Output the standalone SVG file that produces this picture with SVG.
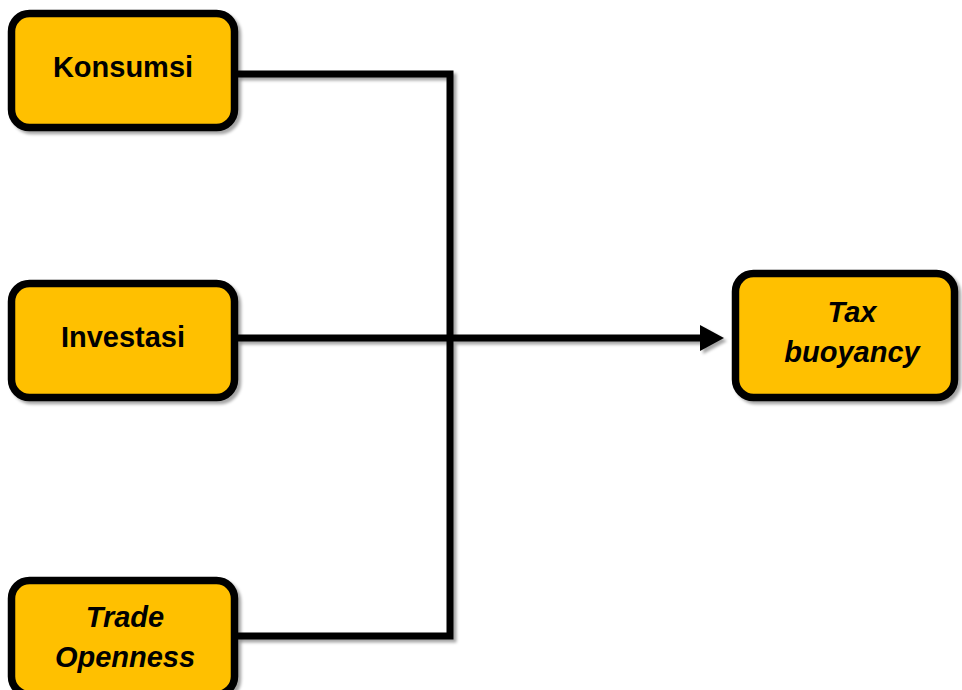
<svg xmlns="http://www.w3.org/2000/svg" width="962" height="690" viewBox="0 0 962 690">
<defs>
<filter id="sh" filterUnits="userSpaceOnUse" x="0" y="0" width="962" height="690">
<feDropShadow dx="3" dy="3" stdDeviation="1.5" flood-color="#000" flood-opacity="0.35"/>
</filter>
</defs>
<style>
.box{fill:#FFC000;stroke:#000;stroke-width:7.5;filter:url(#sh)}
.lbl{font-family:"Liberation Sans",Arial,sans-serif;font-weight:bold;font-size:29px;fill:#000;text-anchor:middle}
.it{font-style:italic}
.con{fill:none;stroke:#000;stroke-width:7}
.head{fill:#000}
</style>
<g id="connectors" filter="url(#sh)">
<path class="con" d="M237,74 H450 V636 H237"/>
<path class="con" d="M237,338 H703"/>
<polygon class="head" points="700,325 724,338 700,351"/>
</g>
<g id="konsumsi">
<rect class="box" x="11.5" y="13.5" width="223" height="114" rx="18"/>
<text class="lbl" x="123" y="77">Konsumsi</text>
</g>
<g id="investasi">
<rect class="box" x="11.5" y="283.5" width="223" height="114" rx="18"/>
<text class="lbl" x="123" y="347">Investasi</text>
</g>
<g id="trade">
<rect class="box" x="11.5" y="580.5" width="223" height="114" rx="18"/>
<text class="lbl it" x="125" y="627">Trade</text>
<text class="lbl it" x="125" y="667">Openness</text>
</g>
<g id="tax">
<rect class="box" x="735.5" y="273.5" width="219" height="124" rx="18"/>
<text class="lbl it" x="852" y="322">Tax</text>
<text class="lbl it" x="852" y="362">buoyancy</text>
</g>
</svg>
